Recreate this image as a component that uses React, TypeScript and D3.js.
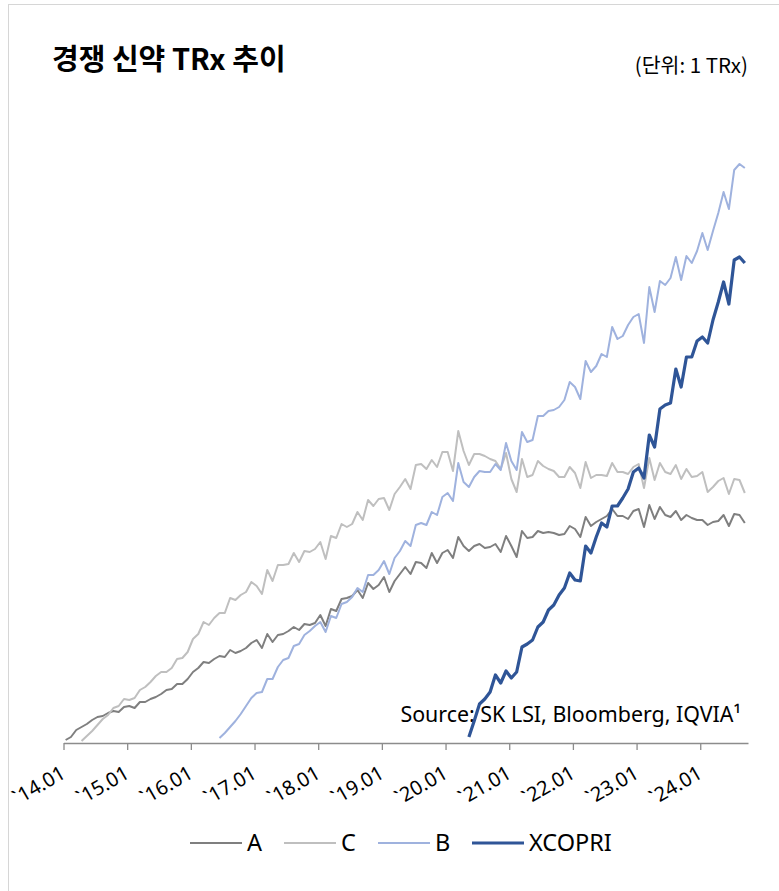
import { useEffect, useRef } from 'react';
import * as d3 from 'd3';

// x categories: monthly, 2014.01 (index 0) .. 2024.09 (index 128)
const tickLabels = ['`14.01', '`15.01', '`16.01', '`17.01', '`18.01', '`19.01', '`20.01', '`21.01', '`22.01', '`23.01', '`24.01'];

// TRx (arbitrary scale)
const startA = 0;
const seriesA = [
    3, 6, 13, 16, 19, 23, 26, 27, 30, 32,
    31, 36, 37, 35, 41, 41, 44, 46, 49, 53,
    54, 59, 59, 64, 71, 75, 81, 80, 84, 87,
    86, 93, 90, 92, 95, 100, 103, 95, 109, 101,
    108, 109, 112, 116, 113, 119, 118, 120, 128, 117,
    134, 132, 144, 145, 147, 153, 145, 160, 154, 158,
    166, 151, 162, 169, 176, 169, 181, 180, 175, 190,
    180, 190, 193, 185, 206, 197, 192, 197, 199, 195,
    196, 199, 191, 207, 197, 186, 212, 205, 206, 212,
    210, 211, 210, 208, 209, 217, 214, 206, 226, 217,
    221, 224, 227, 234, 227, 227, 224, 232, 234, 216,
    238, 224, 236, 228, 226, 232, 223, 228, 225, 223,
    223, 218, 221, 222, 228, 217, 229, 228, 220,
];

const startC = 3;
const seriesC = [
    2, 7, 12, 18, 24, 28, 35, 37, 44, 43,
    45, 53, 56, 61, 67, 71, 71, 75, 84, 85,
    91, 104, 109, 121, 118, 125, 130, 130, 145, 143,
    148, 151, 161, 157, 149, 173, 162, 178, 178, 179,
    190, 181, 192, 191, 194, 201, 184, 207, 205, 219,
    216, 219, 231, 223, 243, 237, 244, 245, 233, 249,
    256, 264, 254, 278, 279, 274, 283, 276, 291, 291,
    272, 312, 292, 278, 289, 289, 287, 284, 282, 274,
    290, 264, 251, 284, 266, 268, 282, 277, 274, 272,
    266, 266, 276, 270, 255, 281, 265, 268, 268, 267,
    280, 271, 271, 269, 276, 279, 255, 285, 263, 280,
    271, 269, 278, 264, 274, 266, 267, 271, 251, 256,
    262, 265, 249, 264, 263, 250,
];

const startB = 29;
const seriesB = [
    5, 10, 16, 22, 29, 37, 45, 50, 51, 64,
    64, 76, 83, 85, 97, 99, 108, 112, 117, 121,
    111, 127, 125, 139, 141, 146, 155, 151, 168, 168,
    173, 182, 169, 185, 192, 202, 197, 218, 220, 218,
    231, 228, 246, 250, 242, 280, 261, 256, 266, 272,
    271, 271, 279, 273, 300, 282, 273, 311, 301, 303,
    327, 327, 332, 333, 336, 343, 361, 356, 344, 382,
    371, 377, 389, 386, 416, 404, 407, 418, 426, 429,
    400, 456, 431, 462, 458, 465, 486, 463, 487, 480,
    492, 510, 493, 512, 530, 551, 534, 573, 579, 575,
];

const startX = 76;
const seriesX = [
    6, 22, 39, 44, 51, 68, 60, 72, 65, 71,
    96, 99, 103, 116, 121, 133, 138, 148, 155, 170,
    163, 162, 197, 190, 206, 220, 216, 237, 237, 245,
    254, 271, 275, 265, 308, 296, 334, 338, 340, 374,
    356, 386, 386, 402, 406, 400, 423, 441, 461, 439,
    483, 486, 480,
];

const seriesNames = ['A', 'C', 'B', 'XCOPRI'];
const seriesColors = ['#7f7f7f', '#bfbfbf', '#9fb2de', '#2f5597'];
const seriesWidths = [2, 2, 2, 3.2];

const W = 779;
const H = 891;
const FONT = "'Noto Sans', 'Noto Sans CJK KR', sans-serif";
const KR = "'Noto Sans CJK KR', sans-serif";

export default function App() {
    const axisRef = useRef<SVGGElement>(null);

    const x = d3.scaleLinear().domain([0, 129]).range([63.5, 748]);
    const y = d3.scaleLinear().domain([0, 600]).range([743, 143]);

    useEffect(() => {
        if (!axisRef.current) return;
        const g = d3.select(axisRef.current);
        g.selectAll('*').remove();
        g.call(
            d3.axisBottom(x)
                .tickValues(d3.range(0, 121, 12))
                .tickSize(7)
                .tickSizeOuter(0)
                .tickFormat((_, i) => tickLabels[i])
        );
        g.select('.domain').attr('stroke', '#8c8c8c').attr('stroke-width', 1.3);
        g.selectAll('.tick line').attr('stroke', '#8c8c8c').attr('stroke-width', 1.3);
        g.selectAll('.tick text')
            .attr('fill', '#000')
            .attr('font-family', FONT)
            .attr('font-size', 20)
            .attr('text-anchor', 'end')
            .attr('y', 0)
            .attr('dy', 0)
            .attr('transform', 'translate(3,34) rotate(-30)');
    }, []);

    const all = [
        { start: startA, values: seriesA },
        { start: startC, values: seriesC },
        { start: startB, values: seriesB },
        { start: startX, values: seriesX },
    ];

    const makeLine = (start: number) =>
        d3.line<number>()
            .x((_, i) => x(start + i + 0.4))
            .y(d => y(d));

    return (
        <svg width={W} height={H} style={{ position: 'absolute', left: 0, top: 0, background: '#fff' }}>
            <rect x={8.5} y={4.5} width={W + 10} height={H + 10} fill="#fff" stroke="#d6d6d6" strokeWidth={1} />

            <text x={52} y={70} fontFamily={KR} fontWeight={700} fontSize={29} fill="#000">
                경쟁 신약 TRx 추이
            </text>
            <text x={748} y={73} textAnchor="end" fontFamily={KR} fontSize={20.5} fill="#000">
                (단위: 1 TRx)
            </text>

            <text x={741} y={722} textAnchor="end" fontFamily={FONT} fontSize={21.4} fill="#000">
                Source: SK LSI, Bloomberg, IQVIA¹
            </text>

            <g ref={axisRef} transform="translate(0,743)" />

            {all.map((s, i) => (
                <path
                    key={seriesNames[i]}
                    d={makeLine(s.start)(s.values) || ''}
                    fill="none"
                    stroke={seriesColors[i]}
                    strokeWidth={seriesWidths[i]}
                    strokeLinejoin="round"
                />
            ))}

            {seriesNames.map((name, i) => {
                const lx = 190 + i * 94;
                return (
                    <g key={name} transform={`translate(${lx},843)`}>
                        <line x1={0} x2={52} y1={0} y2={0} stroke={seriesColors[i]} strokeWidth={seriesWidths[i]} />
                        <text x={57} y={8} fontFamily={FONT} fontSize={23.5} fill="#000">
                            {name}
                        </text>
                    </g>
                );
            })}
        </svg>
    );
}
